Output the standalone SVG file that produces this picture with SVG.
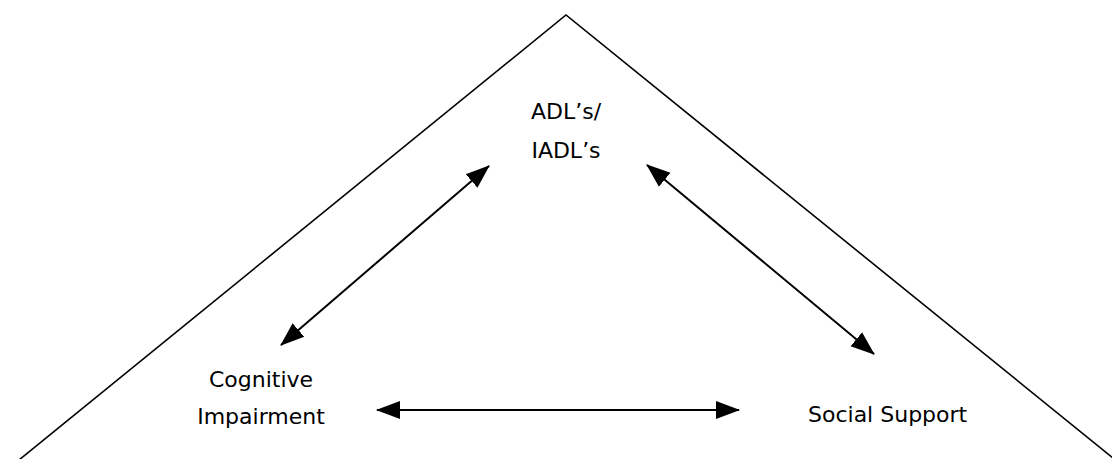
<svg xmlns="http://www.w3.org/2000/svg" width="1112" height="459" viewBox="0 0 1112 459">
<style>
.lbl{font-family:"DejaVu Sans","Liberation Sans",sans-serif;font-size:22px;fill:#000}
.edge{stroke:#000;stroke-width:2;fill:none}
.frame{stroke:#000;stroke-width:1.6;fill:none}
</style>
<defs>
<marker id="ah" markerUnits="userSpaceOnUse" markerWidth="24" markerHeight="20" viewBox="0 0 24 20" refX="23" refY="10" orient="auto-start-reverse">
<path d="M0,1 L24,10 L0,19 Z" fill="#000"/>
</marker>
</defs>
<rect width="1112" height="459" fill="#fff"/>
<g id="frame">
<path class="frame" d="M19,460 L566,15 L1113,458"/>
</g>
<g id="connectors">
<line class="edge" x1="281" y1="345" x2="489" y2="166" marker-start="url(#ah)" marker-end="url(#ah)"/>
<line class="edge" x1="647" y1="165" x2="874" y2="354" marker-start="url(#ah)" marker-end="url(#ah)"/>
<line class="edge" x1="377" y1="410" x2="739" y2="410" marker-start="url(#ah)" marker-end="url(#ah)"/>
</g>
<g id="adl">
<text class="lbl" x="566" y="119" text-anchor="middle">ADL’s/</text>
<text class="lbl" x="566" y="158" text-anchor="middle">IADL’s</text>
</g>
<g id="cognitive">
<text class="lbl" x="261" y="387" text-anchor="middle">Cognitive</text>
<text class="lbl" x="261" y="424" text-anchor="middle">Impairment</text>
</g>
<g id="social">
<text class="lbl" x="808" y="422">Social Support</text>
</g>
</svg>
